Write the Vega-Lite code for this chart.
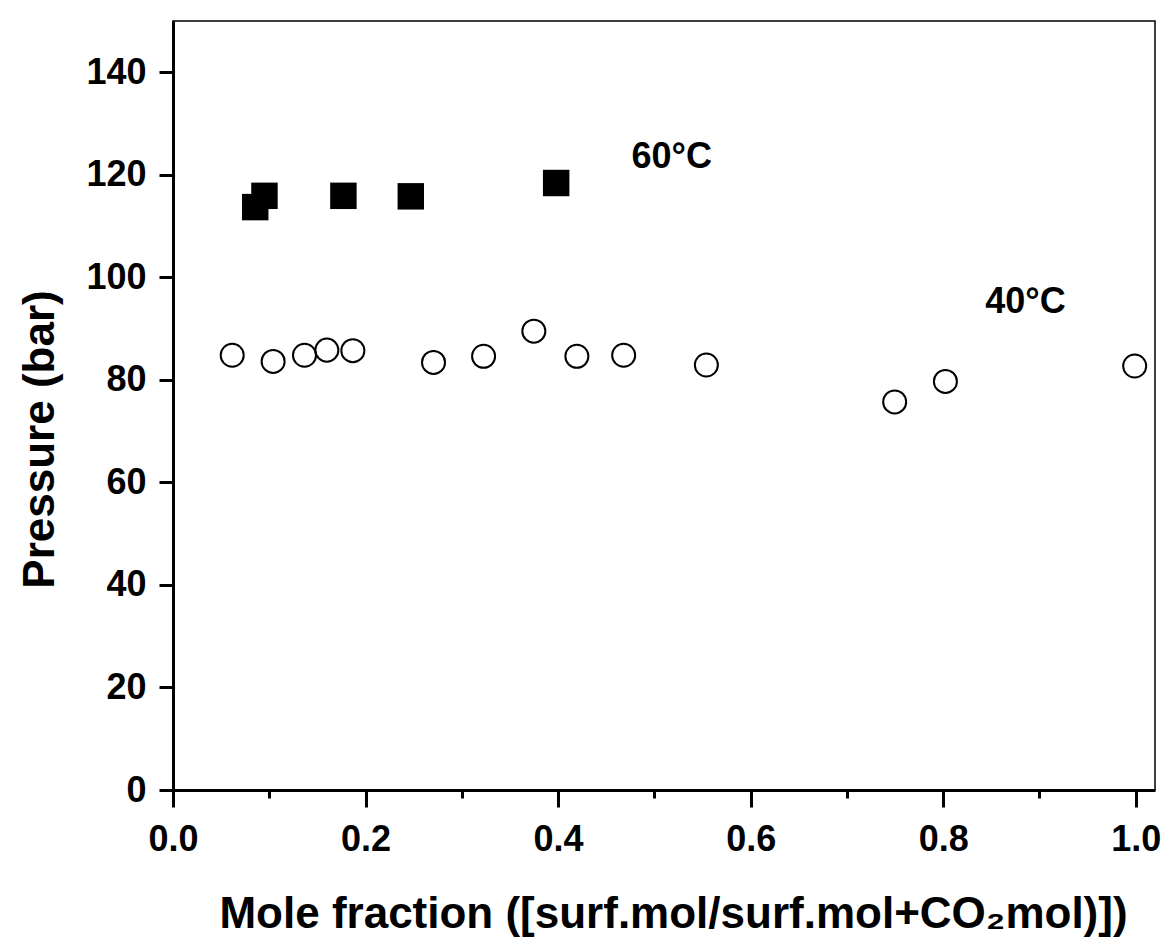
{
  "$schema": "https://vega.github.io/schema/vega-lite/v6.json",
  "autosize": "none",
  "width": 982,
  "height": 769,
  "padding": {"left": 173, "top": 21, "right": 16, "bottom": 149},
  "background": "white",
  "config": {
    "view": {"stroke": "black", "strokeWidth": 1.5},
    "font": "Liberation Sans"
  },
  "datasets": {
    "t60": [
      {"x": 0.0854, "p": 113.7},
      {"x": 0.095, "p": 115.9},
      {"x": 0.177, "p": 115.9},
      {"x": 0.247, "p": 115.8},
      {"x": 0.398, "p": 118.4}
    ],
    "t40": [
      {"x": 0.0615, "p": 84.8},
      {"x": 0.104, "p": 83.6},
      {"x": 0.1366, "p": 84.8},
      {"x": 0.1598, "p": 85.8},
      {"x": 0.1868, "p": 85.7},
      {"x": 0.2706, "p": 83.4},
      {"x": 0.3226, "p": 84.6},
      {"x": 0.3748, "p": 89.5},
      {"x": 0.4195, "p": 84.6},
      {"x": 0.4681, "p": 84.8},
      {"x": 0.554, "p": 82.9},
      {"x": 0.7496, "p": 75.7},
      {"x": 0.8023, "p": 79.7},
      {"x": 0.9989, "p": 82.7}
    ],
    "labels": [
      {"x": 0.518, "p": 121.3, "label": "60°C"},
      {"x": 0.8855, "p": 93.0, "label": "40°C"}
    ]
  },
  "layer": [
    {
      "data": {"name": "t40"},
      "mark": {"type": "point", "shape": "circle", "filled": false, "stroke": "black", "strokeWidth": 2, "size": 530, "opacity": 1},
      "encoding": {
        "x": {
          "field": "x", "type": "quantitative",
          "scale": {"domain": [0, 1.02], "nice": false, "zero": false},
          "axis": {
            "title": "Mole fraction ([surf.mol/surf.mol+CO₂mol)])",
            "values": [0, 0.1, 0.2, 0.3, 0.4, 0.5, 0.6, 0.7, 0.8, 0.9, 1.0],
            "labelExpr": "abs(datum.value*5 - round(datum.value*5)) < 0.001 ? format(datum.value, '.1f') : ''",
            "tickSize": {"condition": {"test": "abs(datum.value*5 - round(datum.value*5)) < 0.001", "value": 17}, "value": 8},
            "tickWidth": 3,
            "tickColor": "black",
            "domainColor": "black",
            "domainWidth": 3,
            "grid": false,
            "labelFont": "Liberation Sans",
            "labelFontSize": 36,
            "labelFontWeight": "bold",
            "labelColor": "black",
            "labelPadding": 15,
            "labelFlush": false,
            "labelOverlap": false,
            "titleFont": "Liberation Sans",
            "titleFontSize": 44,
            "titleFontWeight": "bold",
            "titleColor": "black",
            "titleX": 500,
            "titleY": 137,
            "titleAlign": "center",
            "titleBaseline": "alphabetic"
          }
        },
        "y": {
          "field": "p", "type": "quantitative",
          "scale": {"domain": [0, 150], "nice": false},
          "axis": {
            "title": "Pressure (bar)",
            "values": [0, 20, 40, 60, 80, 100, 120, 140],
            "tickSize": 14,
            "tickWidth": 3,
            "tickColor": "black",
            "domainColor": "black",
            "domainWidth": 3,
            "grid": false,
            "labelFont": "Liberation Sans",
            "labelFontSize": 36,
            "labelFontWeight": "bold",
            "labelColor": "black",
            "labelPadding": 13,
            "labelFlush": false,
            "labelOverlap": false,
            "titleFont": "Liberation Sans",
            "titleFontSize": 44,
            "titleFontWeight": "bold",
            "titleColor": "black",
            "titleAngle": -90,
            "titleX": -120,
            "titleY": 418,
            "titleAlign": "center",
            "titleBaseline": "alphabetic"
          }
        }
      }
    },
    {
      "data": {"name": "t60"},
      "mark": {"type": "point", "shape": "square", "filled": true, "fill": "black", "stroke": null, "size": 700, "opacity": 1},
      "encoding": {
        "x": {"field": "x", "type": "quantitative"},
        "y": {"field": "p", "type": "quantitative"}
      }
    },
    {
      "data": {"name": "labels"},
      "mark": {"type": "text", "font": "Liberation Sans", "fontSize": 36, "fontWeight": "bold", "color": "black", "align": "center", "baseline": "alphabetic"},
      "encoding": {
        "x": {"field": "x", "type": "quantitative"},
        "y": {"field": "p", "type": "quantitative"},
        "text": {"field": "label"}
      }
    }
  ]
}
